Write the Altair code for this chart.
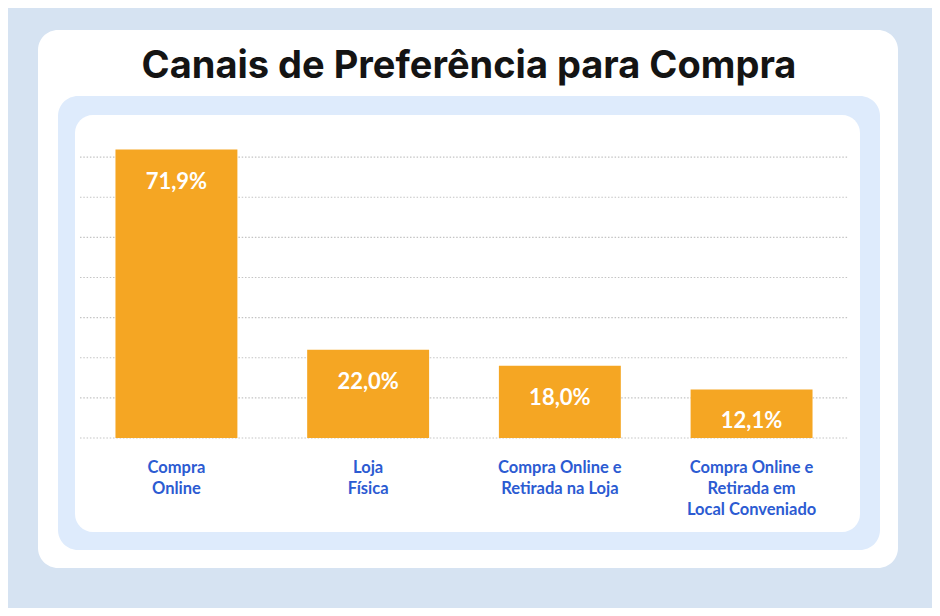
import altair as alt
import pandas as pd

# ---- data ----
categories = [
    "Compra|Online",
    "Loja|Física",
    "Compra Online e|Retirada na Loja",
    "Compra Online e|Retirada em|Local Conveniado",
]
values = [71.9, 22.0, 18.0, 12.1]
value_labels = ["71,9%", "22,0%", "18,0%", "12,1%"]
grid_values = [0, 10, 20, 30, 40, 50, 60, 70]
title_text = "Canais de Preferência para Compra"

df = pd.DataFrame({"cat": categories, "val": values, "lab": value_labels})
gdf = pd.DataFrame({"g": grid_values})

# plot-area geometry (page coords: plot left=80, top=117)
W, H = 768, 321
PAD = {"left": 72, "top": 109, "right": 924 - 72 - W, "bottom": 600 - 109 - H}

BG = "#d6e3f2"
ORANGE = "#f5a623"
BLUE = "#2c5bd2"
LIGHT = "#deebfc"

one = pd.DataFrame({"k": [0]})

def box(x1, y1, x2, y2, color, r):
    return alt.Chart(one).mark_rect(color=color, cornerRadius=r).encode(
        x=alt.value(x1), x2=alt.value(x2), y=alt.value(y1), y2=alt.value(y2)
    )

# decorative cards (plot coordinates)
card = box(-42, -87, 818, 451, "white", 20)
frame = box(-22, -21, 800, 433, LIGHT, 20)
inner = box(-5, -2, 780, 415, "white", 18)

title = alt.Chart(one).mark_text(
    text=title_text, font="Inter", fontWeight=700, fontSize=38,
    color="#141414", align="center", baseline="alphabetic"
).encode(x=alt.value(389), y=alt.value(-39))

yscale = alt.Scale(domain=[0, 80], nice=False)

grid = alt.Chart(gdf).mark_rule(
    color="#c4c4c4", strokeDash=[1.5, 1.8], strokeWidth=1.2
).encode(
    y=alt.Y("g:Q", scale=yscale, axis=None),
    x=alt.value(0), x2=alt.value(W),
)

xenc = alt.X(
    "cat:N", sort=None, title=None,
    scale=alt.Scale(paddingInner=0.364, paddingOuter=0.185),
    axis=alt.Axis(
        labelExpr="split(datum.label, '|')", labelAngle=0,
        labelFont="Lato", labelFontWeight="bold", labelFontSize=16.5,
        labelColor=BLUE, labelLineHeight=21, labelPadding=21,
        labelBaseline="top", domain=False, ticks=False, grid=False,
        labelLimit=300, zindex=1,
    ),
)
yenc = alt.Y("val:Q", title=None, scale=yscale, axis=None)

bars = alt.Chart(df).mark_bar(color=ORANGE).encode(x=xenc, y=yenc)
labels = alt.Chart(df).mark_text(
    font="Lato", fontWeight="bold", fontSize=22, color="white",
    baseline="middle", dy=32
).encode(x=alt.X("cat:N", sort=None), y=alt.Y("val:Q"), text="lab:N")

chart = alt.layer(card, frame, inner, title, grid, bars, labels).properties(
    width=W, height=H, padding=PAD,
    autosize=alt.AutoSizeParams(type="none"),
    background=BG,
).configure_view(stroke=None)

chart.save("out.html", embed_options={"renderer": "svg", "actions": False})
